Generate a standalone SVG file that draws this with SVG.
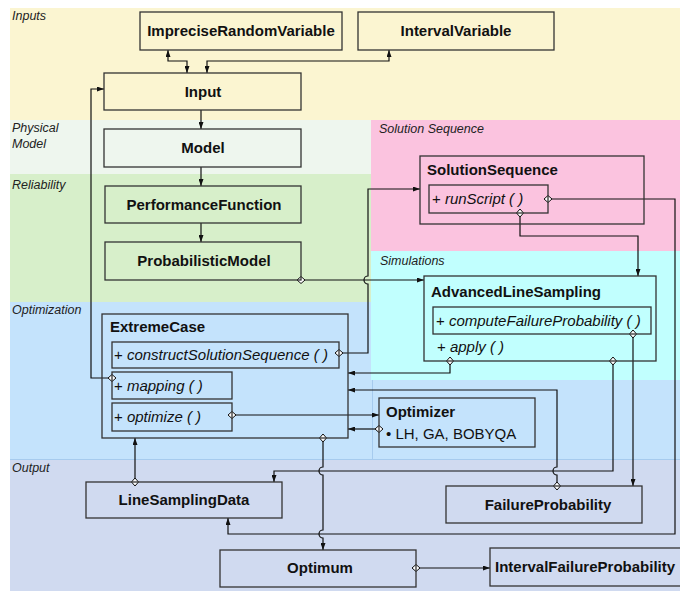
<svg xmlns="http://www.w3.org/2000/svg" width="680" height="591" viewBox="0 0 680 591">
<style>
text{font-family:"Liberation Sans",Arial,Helvetica,sans-serif;fill:#111}
.band{font-size:12.5px;font-style:italic;fill:#222}
.t{font-size:15px;font-weight:bold}
.m{font-size:15px;font-style:italic}
.r{font-size:15px}
.box{fill:none;stroke:#333;stroke-width:1.3}
.c{fill:none;stroke:#111;stroke-width:1.2}
.a{marker-end:url(#arr)}
.d{marker-start:url(#dia)}
.aa{marker-start:url(#arr);marker-end:url(#arr)}
</style>
<defs>
<marker id="arr" viewBox="0 0 7 5" refX="7" refY="2.5" markerWidth="7" markerHeight="5" markerUnits="userSpaceOnUse" orient="auto-start-reverse"><path d="M0,0 L7,2.5 L0,5 z" fill="#111"/></marker>
<marker id="dia" viewBox="0 0 10 9" refX="5" refY="4.5" markerWidth="10" markerHeight="9" markerUnits="userSpaceOnUse" orient="auto"><path d="M1,4.5 L5,1 L9,4.5 L5,8 z" fill="#fff" stroke="#111" stroke-width="1"/></marker>
</defs>
<rect width="680" height="591" fill="#fff"/>
<g id="bands">
<rect x="10" y="8" width="670" height="112" fill="#fbf5d1"/>
<rect x="10" y="120" width="361" height="54" fill="#eef6ee"/>
<rect x="10" y="174" width="361" height="128" fill="#d7efca"/>
<rect x="10" y="302" width="670" height="157" fill="#c4e3fc"/>
<rect x="371" y="120" width="309" height="131" fill="#fbc3df"/>
<rect x="371" y="251" width="309" height="129" fill="#c1fffe"/>
<rect x="10" y="459" width="670" height="132" fill="#d0daf0"/>
<path d="M10,459.5 H680 M372.5,380 V459" stroke="#a6cbee" stroke-width="1" fill="none"/>
<text class="band" x="12" y="20">Inputs</text>
<text class="band" x="12" y="132">Physical</text>
<text class="band" x="12" y="148">Model</text>
<text class="band" x="12" y="189">Reliability</text>
<text class="band" x="12" y="314">Optimization</text>
<text class="band" x="12" y="472">Output</text>
<text class="band" x="379" y="133">Solution Sequence</text>
<text class="band" x="380" y="265">Simulations</text>
</g>
<g id="connectors">
<path class="c aa" d="M168,50 V61 H187 V73"/>
<path class="c aa" d="M389,50 V61 H207 V73"/>
<path class="c a" d="M201,110 V129"/>
<path class="c a" d="M201,167 V186"/>
<path class="c a" d="M201,223 V242"/>
<path class="c d a" d="M112,378 H91 V89 H104"/>
<path class="c d a" d="M301,280 H424"/>
<path class="c d a" d="M339,353 H368 V284 A4,4 0 0 1 368,276 V189 H420"/>
<path class="c d a" d="M548,199 H675 V534 H228 V518"/>
<path class="c d a" d="M520,213 V236 H638 V276"/>
<path class="c d a" d="M450,361 V373 H348"/>
<path class="c d a" d="M613,361 V471 H274 V482"/>
<path class="c d a" d="M633,334 V486"/>
<path class="c d a" d="M557,486 V475 A4,4 0 0 1 557,467 V390 H348"/>
<path class="c d a" d="M232,415 H379"/>
<path class="c d a" d="M379,429 H348"/>
<path class="c d a" d="M323,438 V467 A4,4 0 0 0 323,475 V530 A4,4 0 0 0 323,538 V550"/>
<path class="c d a" d="M135,482 V438"/>
<path class="c d a" d="M416,568 H490"/>
</g>
<g id="ImpreciseRandomVariable"><rect class="box" x="140" y="12" width="202" height="38"/><text class="t" x="241" y="36" text-anchor="middle">ImpreciseRandomVariable</text></g>
<g id="IntervalVariable"><rect class="box" x="358" y="12" width="196" height="38"/><text class="t" x="456" y="36" text-anchor="middle">IntervalVariable</text></g>
<g id="Input"><rect class="box" x="104" y="73" width="197" height="37"/><text class="t" x="203" y="97" text-anchor="middle">Input</text></g>
<g id="Model"><rect class="box" x="104" y="129" width="197" height="38"/><text class="t" x="203" y="153" text-anchor="middle">Model</text></g>
<g id="PerformanceFunction"><rect class="box" x="105" y="186" width="196" height="37"/><text class="t" x="204" y="210" text-anchor="middle">PerformanceFunction</text></g>
<g id="ProbabilisticModel"><rect class="box" x="105" y="242" width="196" height="38"/><text class="t" x="204" y="266" text-anchor="middle">ProbabilisticModel</text></g>
<g id="ExtremeCase"><rect class="box" x="102" y="314" width="246" height="124"/><text class="t" x="110" y="332">ExtremeCase</text>
<rect class="box" x="112" y="342" width="227" height="26"/><text class="m" x="114" y="360"><tspan font-style="normal">+</tspan> constructSolutionSequence ( )</text>
<rect class="box" x="112" y="372" width="120" height="27"/><text class="m" x="114" y="391"><tspan font-style="normal">+</tspan> mapping ( )</text>
<rect class="box" x="112" y="403" width="120" height="28"/><text class="m" x="114" y="422"><tspan font-style="normal">+</tspan> optimize ( )</text></g>
<g id="SolutionSequence"><rect class="box" x="420" y="156" width="224" height="68"/><text class="t" x="427" y="175">SolutionSequence</text>
<rect class="box" x="429" y="185" width="119" height="28"/><text class="m" x="432" y="204"><tspan font-style="normal">+</tspan> runScript ( )</text></g>
<g id="AdvancedLineSampling"><rect class="box" x="424" y="276" width="232" height="85"/><text class="t" x="431" y="297">AdvancedLineSampling</text>
<rect class="box" x="433" y="307" width="218" height="27"/><text class="m" x="436" y="326"><tspan font-style="normal">+</tspan> computeFailureProbability ( )</text>
<text class="m" x="437" y="352"><tspan font-style="normal">+</tspan> apply ( )</text></g>
<g id="Optimizer"><rect class="box" x="379" y="398" width="156" height="49"/><text class="t" x="386" y="417">Optimizer</text><text class="r" x="386" y="439">• LH, GA, BOBYQA</text></g>
<g id="LineSamplingData"><rect class="box" x="86" y="482" width="196" height="36"/><text class="t" x="184" y="505" text-anchor="middle">LineSamplingData</text></g>
<g id="FailureProbability"><rect class="box" x="446" y="486" width="196" height="37"/><text class="t" x="548" y="510" text-anchor="middle">FailureProbability</text></g>
<g id="Optimum"><rect class="box" x="220" y="550" width="196" height="37"/><text class="t" x="320" y="573" text-anchor="middle">Optimum</text></g>
<g id="IntervalFailureProbability"><rect class="box" x="490" y="548" width="194" height="38"/><text class="t" x="495" y="572">IntervalFailureProbability</text></g>
</svg>
